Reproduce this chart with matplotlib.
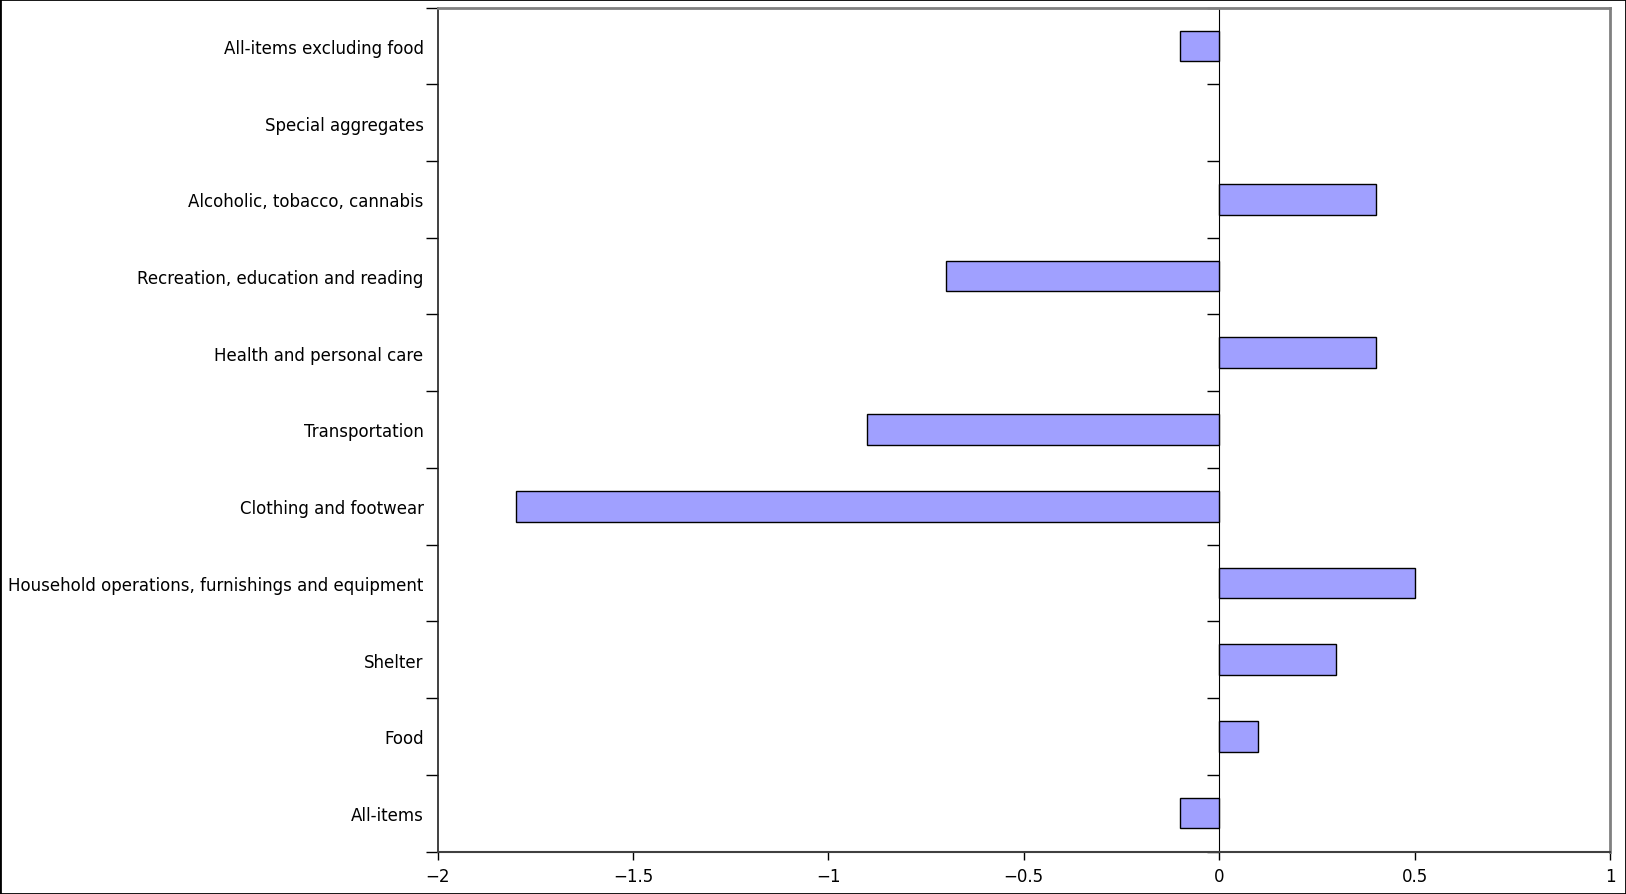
import matplotlib.pyplot as plt
from matplotlib.patches import Rectangle

categories = [
    "All-items",
    "Food",
    "Shelter",
    "Household operations, furnishings and equipment",
    "Clothing and footwear",
    "Transportation",
    "Health and personal care",
    "Recreation, education and reading",
    "Alcoholic, tobacco, cannabis",
    "Special aggregates",
    "All-items excluding food",
]
values = [-0.1, 0.1, 0.3, 0.5, -1.8, -0.9, 0.4, -0.7, 0.4, 0.0, -0.1]
x_ticks = [-2, -1.5, -1, -0.5, 0, 0.5, 1]
x_labels = ["\u22122", "\u22121.5", "\u22121", "\u22120.5", "0", "0.5", "1"]

fig = plt.figure(figsize=(16.26, 8.95), dpi=100)
ax = fig.add_axes([437.5 / 1626, 1 - 852.5 / 895, (1610 - 437.5) / 1626, (852.5 - 8.5) / 895])

pos = list(range(len(categories)))
bars = [(y, v) for y, v in zip(pos, values) if v != 0]
ax.barh([b[0] for b in bars], [b[1] for b in bars], height=0.4,
        color="#a0a0ff", edgecolor="black", linewidth=1)

ax.set_xlim(-2, 1)
ax.set_ylim(-0.5, len(categories) - 0.5)
ax.set_xticks(x_ticks)
ax.set_xticklabels(x_labels, fontsize=12)
ax.tick_params(axis="x", length=6, width=1, pad=5)

ax.set_yticks(pos)
ax.set_yticklabels(categories, fontsize=12)
ax.set_yticks([p - 0.5 for p in pos] + [len(categories) - 0.5], minor=True)
ax.tick_params(axis="y", which="major", length=0, pad=10)
ax.tick_params(axis="y", which="minor", length=9, width=1)

for s in ["top", "right"]:
    ax.spines[s].set_color("#808080")
    ax.spines[s].set_linewidth(2)
ax.spines["bottom"].set_color("#404040")
ax.spines["bottom"].set_linewidth(1.5)
ax.spines["left"].set_color("#202020")
ax.spines["left"].set_linewidth(1.2)

# second axis line at zero with the same boundary ticks, pointing left
zero = ax.secondary_yaxis(2 / 3)
zero.set_yticks([p - 0.5 for p in pos] + [len(categories) - 0.5])
zero.set_yticklabels([])
zero.tick_params(axis="y", length=9, width=1, direction="in")
zero.spines["left"].set_color("black")
zero.spines["left"].set_linewidth(1.2)

fig.patches.append(Rectangle((0, 0), 1, 1, transform=fig.transFigure,
                             fill=False, edgecolor="black", linewidth=2))

fig.savefig("out.png", dpi=100)
